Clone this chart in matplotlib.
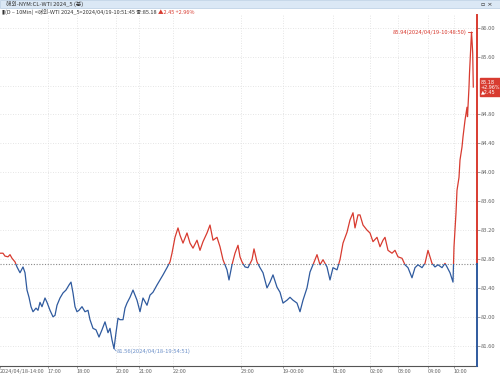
import matplotlib
matplotlib.use("Agg")
import matplotlib.pyplot as plt
from matplotlib.patches import Rectangle

plt.rcParams['font.family'] = ['Noto Sans CJK KR', 'DejaVu Sans']

# ---- data (bar index along the tick axis, price) ----
bars = [0, 3, 5, 8, 10, 12, 15, 17, 20, 23, 25, 27, 29, 31, 33, 36, 38, 40, 42, 45,
        47, 50, 53, 55, 57, 60, 63, 66, 69, 71, 73, 75, 77, 79, 82, 85, 88, 90, 93, 96,
        99, 102, 105, 108, 110, 112, 114, 116, 118, 120, 123, 125, 127, 130, 133, 137, 140, 143, 147, 150,
        153, 157, 160, 163, 167, 170, 172, 175, 178, 180, 183, 187, 190, 193, 197, 200, 203, 207, 210, 213,
        217, 220, 223, 227, 229, 232, 235, 238, 240, 242, 245, 248, 252, 254, 257, 260, 263, 267, 270, 273,
        277, 280, 283, 287, 290, 293, 297, 300, 303, 307, 310, 313, 317, 320, 323, 327, 330, 333, 337, 340,
        343, 347, 350, 353, 355, 358, 360, 363, 367, 370, 373, 377, 380, 383, 385, 388, 392, 395, 398, 402,
        405, 408, 412, 415, 418, 422, 425, 428, 432, 435, 438, 442, 445, 447, 450, 453, 453.5, 454, 456, 457,
        459, 460, 462, 463, 465, 467, 467.5, 469, 469.5, 471, 471.5, 472, 472.7, 473.3]
price = [82.88, 82.88, 82.84, 82.83, 82.86, 82.81, 82.76, 82.69, 82.61, 82.69, 82.61, 82.37, 82.27, 82.14, 82.07, 82.12, 82.09, 82.20, 82.14, 82.26,
         82.20, 82.09, 82.00, 82.02, 82.16, 82.26, 82.33, 82.37, 82.44, 82.48, 82.33, 82.14, 82.07, 82.09, 82.14, 82.07, 82.09, 81.96, 81.84, 81.82,
         81.72, 81.82, 81.93, 81.78, 81.84, 81.68, 81.56, 81.78, 81.98, 81.96, 81.96, 82.12, 82.19, 82.27, 82.37, 82.23, 82.07, 82.26, 82.16, 82.30,
         82.34, 82.44, 82.51, 82.58, 82.68, 82.76, 82.88, 83.10, 83.23, 83.13, 83.02, 83.16, 83.02, 82.95, 83.06, 82.92, 83.04, 83.16, 83.27, 83.06,
         83.10, 82.97, 82.79, 82.65, 82.51, 82.72, 82.88, 82.99, 82.83, 82.76, 82.69, 82.68, 82.79, 82.94, 82.76, 82.68, 82.61, 82.40, 82.48, 82.58,
         82.41, 82.34, 82.19, 82.23, 82.27, 82.23, 82.19, 82.07, 82.23, 82.40, 82.62, 82.72, 82.86, 82.72, 82.79, 82.69, 82.51, 82.68, 82.65, 82.79,
         83.02, 83.17, 83.34, 83.44, 83.23, 83.41, 83.41, 83.27, 83.20, 83.16, 83.04, 83.10, 82.97, 83.06, 83.10, 82.92, 82.88, 82.92, 82.83, 82.81,
         82.72, 82.68, 82.54, 82.68, 82.72, 82.68, 82.74, 82.92, 82.74, 82.69, 82.72, 82.68, 82.74, 82.69, 82.61, 82.48, 82.74, 82.97, 83.44, 83.75,
         83.93, 84.17, 84.35, 84.49, 84.72, 84.90, 84.77, 85.18, 85.37, 85.79, 85.94, 85.83, 85.65, 85.18]

prev_close = 82.73
tick_pos = [0, 48, 77, 116, 139, 173, 241, 283, 333, 370, 398, 428, 454]
tick_labels = ["2024/04/18-14:00", "17:00", "18:00", "20:00", "21:00", "22:00", "23:00",
               "19-00:00", "01:00", "02:00", "03:00", "04:00", "10:00"]
y_grid = [81.60, 82.00, 82.40, 82.80, 83.20, 83.60, 84.00, 84.40, 84.80, 85.20, 85.60, 86.00]
y_labels = [81.60, 82.00, 82.40, 82.80, 83.20, 83.60, 84.00, 84.40, 84.80, 85.60, 86.00]

RED = "#d83b30"
BLUE = "#2f5a9e"
GRAY = "#666666"

fig = plt.figure(figsize=(5, 3.75), dpi=100)
ax = fig.add_axes([0.0, 9 / 375, 0.954, 351 / 375])
ymin, ymax = 81.319, 86.177
ax.set_xlim(0, 477)
ax.set_ylim(ymin, ymax)

# grid
for t in tick_pos[1:]:
    ax.axvline(t, color="#dddddd", lw=0.6, ls=(0, (1, 2)), zorder=0)
for yv in y_grid:
    ax.axhline(yv, color="#dddddd", lw=0.6, ls=(0, (1, 2)), zorder=0)
ax.axhline(prev_close, color="#888888", lw=0.8, ls=(0, (1, 1.5)), zorder=1)

# price line split at previous close using clip rectangles
l1, = ax.plot(bars, price, color=RED, lw=0.9, zorder=3)
l2, = ax.plot(bars, price, color=BLUE, lw=0.9, zorder=3)
r_up = Rectangle((-10, prev_close), 600, 10, transform=ax.transData)
r_dn = Rectangle((-10, prev_close - 10), 600, 10, transform=ax.transData)
l1.set_clip_path(r_up)
l2.set_clip_path(r_dn)

# spines
for s in ["top", "left", "right"]:
    ax.spines[s].set_visible(False)
ax.spines["bottom"].set_color("#555555")
ax.spines["bottom"].set_linewidth(0.8)
yt = ax.get_yaxis_transform()
ax.plot([1, 1], [prev_close, ymax], transform=yt, color=RED, lw=1.4, clip_on=False, zorder=5)
ax.plot([1, 1], [ymin, prev_close], transform=yt, color=BLUE, lw=1.4, clip_on=False, zorder=5)

# ticks
ax.yaxis.tick_right()
ax.set_yticks(y_labels)
ax.set_yticklabels([f"{v:.2f}" for v in y_labels])
ax.tick_params(axis="y", length=2, width=0.5, color="#777777", labelsize=4.2,
               labelcolor=GRAY, pad=1)
ax.set_xticks(tick_pos)
ax.set_xticklabels(tick_labels)
ax.tick_params(axis="x", length=1.5, width=0.5, color="#777777", labelsize=4.0,
               labelcolor=GRAY, pad=0.5)
for lab in ax.get_xticklabels():
    lab.set_ha("left")

# annotations of max / min
imax = price.index(max(price))
imin = price.index(min(price))
ax.plot([bars[imax] - 4, bars[imax]], [price[imax], price[imax]], color=RED, lw=0.6)
ax.text(bars[imax] - 4.5, price[imax], "85.94(2024/04/19-10:48:50)", color=RED,
        fontsize=4.2, ha="right", va="center")
ax.plot([bars[imin], bars[imin] + 2], [price[imin], price[imin] - 0.03], color="#6b8fc8", lw=0.6)
ax.text(bars[imin] + 2.5, price[imin] - 0.035, "81.56(2024/04/18-19:54:51)", color="#6b8fc8",
        fontsize=4.2, ha="left", va="center")

# current price box
ax.text(1.008, price[-1], "85.18\n+2.96%\n▲2.45", transform=yt, color="white",
        fontsize=3.5, ha="left", va="center", linespacing=1.0, family=["DejaVu Sans"],
        bbox=dict(boxstyle="square,pad=0.25", fc=RED, ec=RED), zorder=6, clip_on=False)

# header bar
fig.patches.append(Rectangle((0, 1 - 8 / 375), 1, 8 / 375, transform=fig.transFigure,
                             fc="#dbe8f5", ec="#b8cde3", lw=0.5, zorder=0))
fig.text(0.012, 1 - 4 / 375, "해외-NYM:CL-WTI 2024_5 (분)", fontsize=4.2, color="#333333",
         ha="left", va="center")
fig.text(0.985, 1 - 4 / 375, "▫ ×", fontsize=4.5, color="#333333", ha="right", va="center",
         family=["DejaVu Sans"])
t1 = fig.text(0.004, 1 - 12 / 375, "▮(D – 10Min) <해외-WTI 2024_5>2024/04/19-10:51:45 종:85.18 ",
              fontsize=4.0, color="#333333", ha="left", va="center")
fig.canvas.draw()
bb = t1.get_window_extent()
fig.text(bb.x1 / fig.bbox.width, 1 - 12 / 375, "▲2.45 +2.96%", fontsize=4.0, color=RED,
         ha="left", va="center")

fig.savefig("out.png", dpi=100)
